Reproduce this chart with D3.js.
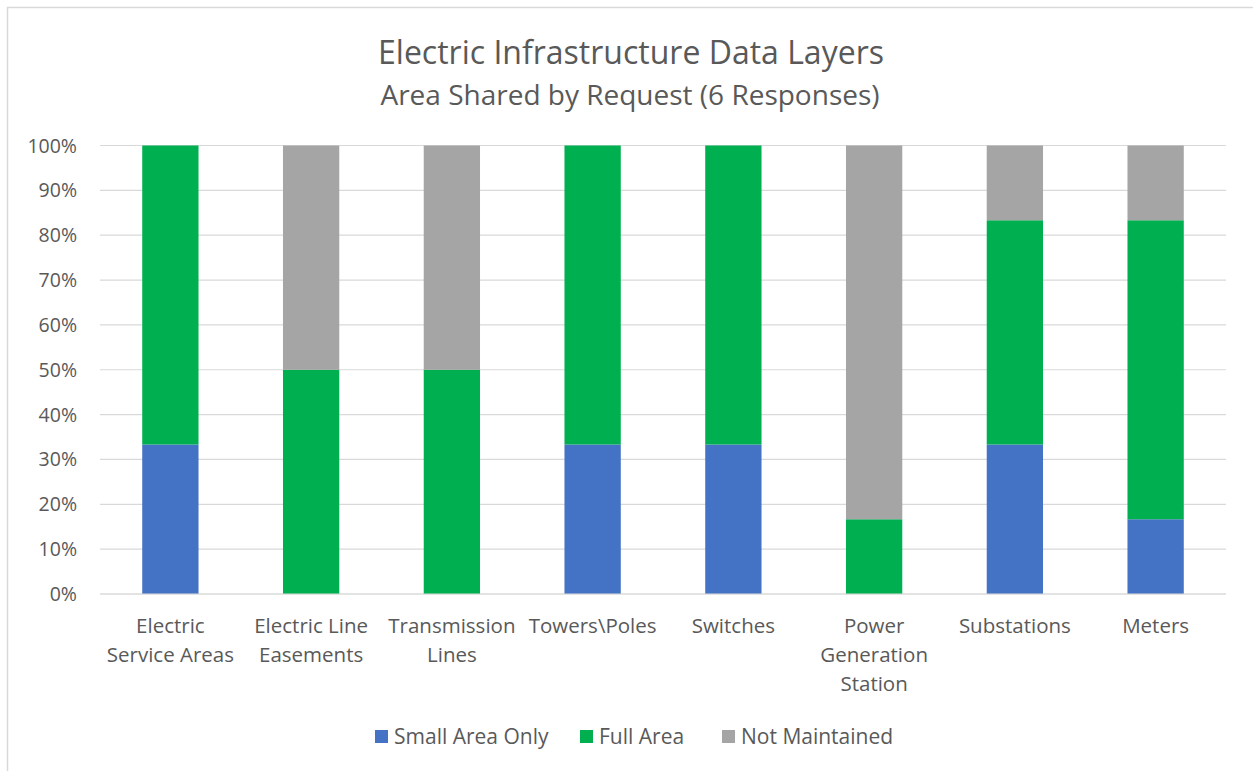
<!DOCTYPE html>
<html>
<head>
<meta charset="utf-8">
<script src="https://cdn.jsdelivr.net/npm/d3@7"></script>
<style>
  body { margin: 0; background: #fff; }
  text { font-family: "Open Sans", sans-serif; fill: #595959; }
</style>
</head>
<body>
<script>
const width = 1253;
const height = 771;

// counts out of 6 responses
const categories = [
  ["Electric", "Service Areas"],
  ["Electric Line", "Easements"],
  ["Transmission", "Lines"],
  ["Towers\\Poles"],
  ["Switches"],
  ["Power", "Generation", "Station"],
  ["Substations"],
  ["Meters"]
];
const smallArea = [2, 0, 0, 2, 2, 0, 2, 1];
const fullArea = [4, 3, 3, 4, 4, 1, 3, 4];
const notMaintained = [0, 3, 3, 0, 0, 5, 1, 1];
const seriesNames = ["Small Area Only", "Full Area", "Not Maintained"];
const colors = ["#4472C4", "#00B050", "#A5A5A5"];
const yTicks = [0, 0.1, 0.2, 0.3, 0.4, 0.5, 0.6, 0.7, 0.8, 0.9, 1];

const margin = { left: 100, right: 27, top: 145.5, bottom: 177 };

const svg = d3.select('body').append('svg')
  .attr('width', width)
  .attr('height', height);

// chart border
svg.append('rect')
  .attr('x', 7.5).attr('y', 7.5)
  .attr('width', 1260).attr('height', 780)
  .attr('fill', 'none')
  .attr('stroke', '#d9d9d9')
  .attr('stroke-width', 1.5);

const x = d3.scaleBand()
  .domain(d3.range(categories.length))
  .range([margin.left, width - margin.right])
  .paddingInner(0.6)
  .paddingOuter(0.3);

const y = d3.scaleLinear()
  .domain([0, 1])
  .range([height - margin.bottom, margin.top]);

// gridlines
svg.append('g')
  .selectAll('line')
  .data(yTicks)
  .enter().append('line')
  .attr('x1', margin.left)
  .attr('x2', width - margin.right)
  .attr('y1', d => y(d))
  .attr('y2', d => y(d))
  .attr('stroke', '#d9d9d9')
  .attr('stroke-width', 1.2);

// y labels
svg.append('g')
  .selectAll('text')
  .data(yTicks)
  .enter().append('text')
  .attr('x', 77)
  .attr('y', d => y(d) + 7)
  .attr('text-anchor', 'end')
  .style('font-size', '19.5px')
  .text(d => d3.format('.0%')(d));

// stacked bars
const rows = categories.map((c, i) => {
  const total = smallArea[i] + fullArea[i] + notMaintained[i];
  return { i, s0: smallArea[i] / total, s1: fullArea[i] / total, s2: notMaintained[i] / total };
});
const stack = d3.stack().keys(['s0', 's1', 's2'])(rows);

svg.append('g')
  .selectAll('g')
  .data(stack)
  .enter().append('g')
  .attr('fill', (d, k) => colors[k])
  .selectAll('rect')
  .data(d => d)
  .enter().append('rect')
  .attr('x', d => x(d.data.i))
  .attr('width', x.bandwidth())
  .attr('y', d => y(d[1]))
  .attr('height', d => y(d[0]) - y(d[1]));

// baseline redraw on top
svg.append('line')
  .attr('x1', margin.left).attr('x2', width - margin.right)
  .attr('y1', y(0)).attr('y2', y(0))
  .attr('stroke', '#d9d9d9').attr('stroke-width', 1.2);

// category labels
const labels = svg.append('g')
  .selectAll('text')
  .data(categories)
  .enter().append('text')
  .attr('x', (d, i) => x(i) + x.bandwidth() / 2)
  .attr('y', 633)
  .attr('text-anchor', 'middle')
  .style('font-size', '20.5px');
labels.selectAll('tspan')
  .data(d => d)
  .enter().append('tspan')
  .attr('x', function () { return d3.select(this.parentNode).attr('x'); })
  .attr('dy', (d, j) => j === 0 ? 0 : 29)
  .text(d => d);

// title
svg.append('text')
  .attr('x', 631).attr('y', 64)
  .attr('text-anchor', 'middle')
  .style('font-size', '32px')
  .text('Electric Infrastructure Data Layers');
svg.append('text')
  .attr('x', 630).attr('y', 105)
  .attr('text-anchor', 'middle')
  .style('font-size', '28px')
  .text('Area Shared by Request (6 Responses)');

// legend
const legendX = [375, 580, 722];
const legend = svg.append('g')
  .selectAll('g')
  .data(seriesNames)
  .enter().append('g')
  .attr('transform', (d, i) => `translate(${legendX[i]},730)`);
legend.append('rect')
  .attr('width', 13).attr('height', 13)
  .attr('fill', (d, i) => colors[i]);
legend.append('text')
  .attr('x', 19).attr('y', 14)
  .style('font-size', '21px')
  .text(d => d);
</script>
</body>
</html>
